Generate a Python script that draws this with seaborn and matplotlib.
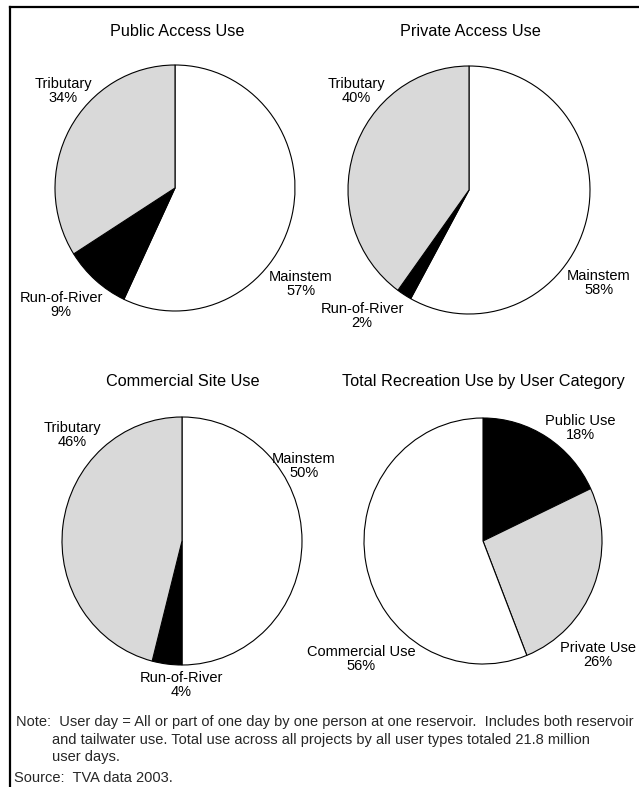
import matplotlib
matplotlib.use("Agg")
import matplotlib.pyplot as plt
from matplotlib.lines import Line2D
import seaborn as sns

# ---- data -------------------------------------------------------------
reservoir_types = ["Mainstem", "Run-of-River", "Tributary"]
public_access = [57, 9, 34]
private_access = [58, 2, 40]
commercial_site = [50, 4, 46]

user_categories = ["Public Use", "Private Use", "Commercial Use"]
total_use = [18, 26, 56]

titles = ["Public Access Use", "Private Access Use",
          "Commercial Site Use", "Total Recreation Use by User Category"]

note_lines = [
    "Note:  User day = All or part of one day by one person at one reservoir.  Includes both reservoir",
    "and tailwater use. Total use across all projects by all user types totaled 21.8 million",
    "user days.",
]
source_line = "Source:  TVA data 2003."

# ---- style ------------------------------------------------------------
sns.set_theme(style="white")
plt.rcParams["font.family"] = ["Liberation Sans", "DejaVu Sans"]

GRAY = "#d9d9d9"
reservoir_colors = ["white", "black", GRAY]
user_colors = ["black", GRAY, "white"]

W, H = 639, 787
fig = plt.figure(figsize=(W / 100, H / 100), dpi=100)
fig.patch.set_facecolor("white")


def fx(px):
    return px / W


def fy(py):
    return 1 - py / H


# pie layout in pixels: centre x, centre y, radius x, radius y
layout = [
    (175, 188, 120, 123),
    (469, 190, 121, 124),
    (182, 541, 120, 124),
    (483, 541, 119, 123),
]
title_pos = [(177, 31), (470, 31), (183, 381), (483, 381)]

# label block centres (pixels) for each slice of each pie
label_pos = [
    [(301, 284), (61, 305), (63, 91)],
    [(599, 283), (362, 316), (356, 91)],
    [(304, 466), (181, 685), (72, 435)],
    [(580, 428), (598, 655), (361, 659)],
]

datasets = [
    (public_access, reservoir_types, reservoir_colors),
    (private_access, reservoir_types, reservoir_colors),
    (commercial_site, reservoir_types, reservoir_colors),
    (total_use, user_categories, user_colors),
]

for i, (vals, names, cols) in enumerate(datasets):
    cx, cy, rx, ry = layout[i]
    ax = fig.add_axes([fx(cx - rx), fy(cy + ry), 2 * rx / W, 2 * ry / H])
    ax.pie(vals, colors=cols, startangle=90, counterclock=False,
           wedgeprops=dict(edgecolor="black", linewidth=0.8))
    ax.set_aspect("auto")
    ax.set_xlim(-1.0, 1.0)
    ax.set_ylim(-1.0, 1.0)
    ax.axis("off")

    tx, ty = title_pos[i]
    fig.text(fx(tx), fy(ty), titles[i], ha="center", va="center",
             fontsize=11.7, color="black")

    for (lx, ly), name, v in zip(label_pos[i], names, vals):
        fig.text(fx(lx), fy(ly), f"{name}\n{v}%", ha="center", va="center",
                 fontsize=10.5, color="black", linespacing=0.95, zorder=10)

# notes
note_fs = 10.5
fig.text(fx(16), fy(722), note_lines[0], ha="left", va="center", fontsize=note_fs)
fig.text(fx(52), fy(740), note_lines[1], ha="left", va="center", fontsize=note_fs)
fig.text(fx(52), fy(757), note_lines[2], ha="left", va="center", fontsize=note_fs)
fig.text(fx(14), fy(778), source_line, ha="left", va="center", fontsize=note_fs)

# frame: left and top edges
fig.add_artist(Line2D([fx(10), fx(10)], [0, fy(7)], color="black", lw=1.6,
                      solid_capstyle="projecting"))
fig.add_artist(Line2D([fx(10), 1], [fy(7), fy(7)], color="black", lw=1.6,
                      solid_capstyle="projecting"))

fig.savefig("out.png", dpi=100, facecolor="white")
